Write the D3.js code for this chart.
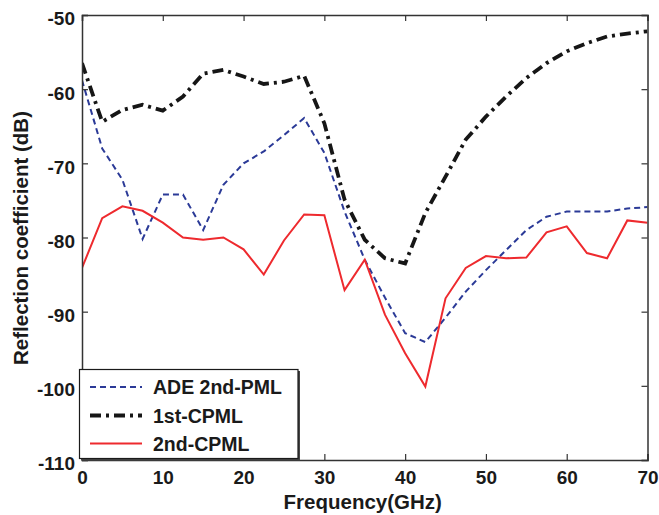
<!DOCTYPE html>
<html>
<head>
<meta charset="UTF-8">
<script src="https://d3js.org/d3.v7.min.js"></script>
<style>
  body { margin: 0; background: #fff; }
  text { font-family: "Liberation Sans", Arial, sans-serif; font-weight: bold; fill: #1a1a1a; }
</style>
</head>
<body>
<div id="chart"></div>
<script>
// frequency samples (GHz)
var freq = [0, 2.5, 5, 7.5, 10, 12.5, 15, 17.5, 20, 22.5, 25, 27.5, 30, 32.5, 35,
            37.5, 40, 42.5, 45, 47.5, 50, 52.5, 55, 57.5, 60, 62.5, 65, 67.5, 70];

var ade2ndPml = [-58.8, -68.0, -72.2, -80.2, -74.2, -74.2, -79.0, -72.9, -70.0, -68.4,
                 -66.2, -63.9, -68.6, -76.5, -83.0, -88.1, -92.9, -94.1, -90.8, -87.3,
                 -84.4, -81.7, -79.0, -77.2, -76.5, -76.5, -76.5, -76.1, -75.9];

var cpml1st = [-56.5, -64.4, -62.8, -62.1, -62.9, -61.0, -57.9, -57.4, -58.3, -59.3,
               -59.0, -58.2, -64.6, -74.9, -80.3, -82.8, -83.5, -76.7, -71.8, -66.8,
               -63.7, -61.0, -58.5, -56.5, -54.9, -53.8, -52.9, -52.5, -52.2];

var cpml2nd = [-84.1, -77.4, -75.8, -76.4, -78.0, -80.0, -80.3, -80.0, -81.6, -85.0,
               -80.4, -76.9, -77.0, -87.1, -83.0, -90.4, -95.6, -100.1, -88.2, -84.1,
               -82.5, -82.8, -82.7, -79.3, -78.5, -82.1, -82.8, -77.7, -78.0];

var xTicks = [0, 10, 20, 30, 40, 50, 60, 70];
var yTicks = [-50, -60, -70, -80, -90, -100, -110];

var seriesNames = ["ADE 2nd-PML", "1st-CPML", "2nd-CPML"];

var W = 659, H = 515;
var margin = {top: 15, right: 11.5, bottom: 55, left: 82};
var width = W - margin.left - margin.right,
    height = H - margin.top - margin.bottom;

var svg = d3.select("#chart").append("svg")
  .attr("width", W).attr("height", H);

var g = svg.append("g")
  .attr("transform", "translate(" + margin.left + "," + margin.top + ")");

var x = d3.scaleLinear().domain([0, 70]).range([0, width]);
var y = d3.scaleLinear().domain([-110, -50]).range([height, 0]);

var styles = [
  {data: ade2ndPml, color: "#2b3a97", w: 2, dash: "6,4"},
  {data: cpml1st, color: "#161616", w: 3.8, dash: "11,5,3,5"},
  {data: cpml2nd, color: "#ee2a2e", w: 2, dash: null}
];

var line = d3.line()
  .x(function(d, i) { return x(freq[i]); })
  .y(function(d) { return y(d); });

g.append("defs").append("clipPath").attr("id", "clip")
  .append("rect").attr("width", width).attr("height", height);

styles.forEach(function(s) {
  g.append("path")
    .datum(s.data)
    .attr("clip-path", "url(#clip)")
    .attr("fill", "none")
    .attr("stroke", s.color)
    .attr("stroke-width", s.w)
    .attr("stroke-dasharray", s.dash)
    .attr("stroke-linejoin", "miter")
    .attr("d", line);
});

// axes, ticks pointing inward (matlab style box)
var tickLen = 6;
var axisColor = "#333";
var plain = function(d) { return String(d); };  // keep the ascii hyphen

var xb = g.append("g").attr("transform", "translate(0," + height + ")")
  .call(d3.axisBottom(x).tickValues(xTicks).tickSize(-tickLen).tickPadding(14).tickFormat(plain));
var xt = g.append("g")
  .call(d3.axisTop(x).tickValues(xTicks).tickSize(-tickLen).tickFormat(""));
var yl = g.append("g")
  .call(d3.axisLeft(y).tickValues(yTicks).tickSize(-tickLen).tickPadding(7).tickFormat(plain));
var yr = g.append("g").attr("transform", "translate(" + width + ",0)")
  .call(d3.axisRight(y).tickValues(yTicks).tickSize(-tickLen).tickFormat(""));

[xb, xt, yl, yr].forEach(function(a) {
  a.select(".domain").attr("stroke", axisColor).attr("stroke-width", 1.5);
  a.selectAll(".tick line").attr("stroke", axisColor).attr("stroke-width", 1.2);
  a.selectAll(".tick text")
    .style("font-family", "'Liberation Sans', Arial, sans-serif")
    .style("font-weight", "bold")
    .style("font-size", "19px")
    .attr("fill", "#1a1a1a");
});
yl.selectAll(".tick text").attr("dy", "0.52em").attr("x", -7);
xb.selectAll(".tick text").attr("dy", "0.71em").attr("y", 11);

// axis labels
svg.append("text")
  .attr("x", margin.left + width / 2 - 2)
  .attr("y", 509)
  .attr("text-anchor", "middle")
  .style("font-size", "20.5px")
  .text("Frequency(GHz)");

svg.append("text")
  .attr("transform", "translate(28,238) rotate(-90)")
  .attr("text-anchor", "middle")
  .style("font-size", "20.5px")
  .text("Reflection coefficient (dB)");

// legend
var lg = svg.append("g");
lg.append("rect")
  .attr("x", 81).attr("y", 371).attr("width", 219).attr("height", 89.5)
  .attr("fill", "#444");
lg.append("rect")
  .attr("x", 79.5).attr("y", 369.5).attr("width", 218.5).attr("height", 89)
  .attr("fill", "#fff").attr("stroke", "#1a1a1a").attr("stroke-width", 1.2);

var rowY = [387, 415.5, 443.5];
styles.forEach(function(s, i) {
  lg.append("line")
    .attr("x1", 90).attr("x2", 142)
    .attr("y1", rowY[i]).attr("y2", rowY[i])
    .attr("stroke", s.color)
    .attr("stroke-width", s.w)
    .attr("stroke-dasharray", s.dash);
  lg.append("text")
    .attr("x", 153).attr("y", rowY[i] + 7)
    .style("font-size", "19.5px")
    .text(seriesNames[i]);
});
</script>
</body>
</html>
